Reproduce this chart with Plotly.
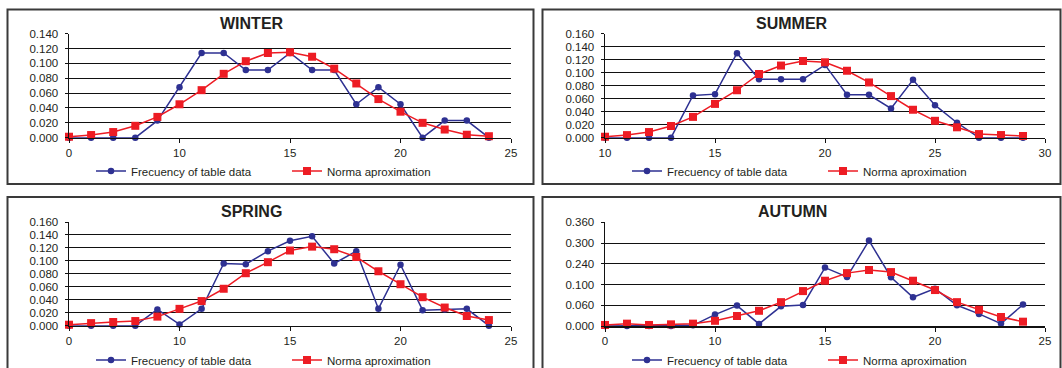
import plotly.graph_objects as go

W, H = 1062, 368

# ---------------- data ----------------
x_winter = list(range(5, 25))
winter_freq = [0.000, 0.000, 0.000, 0.000, 0.023, 0.068, 0.114, 0.114, 0.091, 0.091,
               0.114, 0.091, 0.091, 0.045, 0.068, 0.045, 0.000, 0.023, 0.023, 0.000]
winter_norm = [0.0013, 0.0036, 0.0076, 0.016, 0.028, 0.045, 0.064, 0.086, 0.103, 0.114,
               0.115, 0.109, 0.093, 0.073, 0.052, 0.035, 0.020, 0.011, 0.004, 0.002]

x_summer = list(range(10, 30))
summer_freq = [0.000, 0.000, 0.000, 0.000, 0.065, 0.067, 0.130, 0.090, 0.090, 0.090,
               0.112, 0.066, 0.066, 0.045, 0.089, 0.050, 0.023, 0.000, 0.000, 0.000]
summer_norm = [0.0015, 0.004, 0.0087, 0.018, 0.032, 0.052, 0.073, 0.098, 0.111, 0.118,
               0.116, 0.103, 0.085, 0.064, 0.043, 0.026, 0.016, 0.0056, 0.0041, 0.0026]

x_spring = list(range(5, 25))
spring_freq = [0.000, 0.000, 0.000, 0.000, 0.025, 0.002, 0.026, 0.096, 0.095, 0.115,
               0.131, 0.138, 0.096, 0.115, 0.026, 0.094, 0.024, 0.025, 0.026, 0.000]
spring_norm = [0.0015, 0.004, 0.0057, 0.0072, 0.014, 0.026, 0.038, 0.057, 0.081, 0.098,
               0.116, 0.122, 0.118, 0.106, 0.084, 0.064, 0.044, 0.028, 0.015, 0.0087]

x_autumn = list(range(5, 25))
autumn_freq = [0.000, 0.000, 0.000, 0.000, 0.002, 0.033, 0.059, 0.006, 0.057, 0.061,
               0.169, 0.142, 0.247, 0.141, 0.083, 0.108, 0.060, 0.035, 0.007, 0.062]
autumn_norm = [0.003, 0.0068, 0.003, 0.0048, 0.0068, 0.015, 0.029, 0.044, 0.069, 0.101,
               0.131, 0.153, 0.162, 0.156, 0.131, 0.104, 0.069, 0.047, 0.026, 0.0125]

titles = ["WINTER", "SUMMER", "SPRING", "AUTUMN"]
series_names = ["Frecuency of table data", "Norma aproximation"]

x_tick_vals_a = [5, 10, 15, 20, 25]
x_tick_text_a = ["0", "10", "15", "20", "25"]
x_tick_vals_b = [10, 15, 20, 25, 30]
x_tick_text_b = ["10", "15", "20", "25", "30"]
autumn_y_vals = [0.0, 0.06, 0.12, 0.18, 0.24, 0.30]
autumn_y_text = ["0.000", "0.060", "0.100", "0.240", "0.300", "0.360"]

BLUE = "#2E3192"
RED = "#ED1C24"
FONT = "Liberation Sans, Arial, sans-serif"
TXT = "#231F20"


def px(x):
    return x / W


def py(y):
    return 1 - y / H


panels = [
    dict(x=x_winter, f=winter_freq, n=winter_norm, xa="x", ya="y", lg="legend",
         xd=(69, 511), yd=(33.7, 137.7), xr=[5, 25], yr=[0, 0.14], xt=(x_tick_vals_a, x_tick_text_a)),
    dict(x=x_summer, f=summer_freq, n=summer_norm, xa="x2", ya="y2", lg="legend2",
         xd=(605, 1045), yd=(33.7, 137.7), xr=[10, 30], yr=[0, 0.16], xt=(x_tick_vals_b, x_tick_text_b)),
    dict(x=x_spring, f=spring_freq, n=spring_norm, xa="x3", ya="y3", lg="legend3",
         xd=(69, 511), yd=(222, 325.7), xr=[5, 25], yr=[0, 0.16], xt=(x_tick_vals_a, x_tick_text_a)),
    dict(x=x_autumn, f=autumn_freq, n=autumn_norm, xa="x4", ya="y4", lg="legend4",
         xd=(605, 1045), yd=(222.3, 326), xr=[5, 25], yr=[0, 0.30], xt=(x_tick_vals_a, x_tick_text_a)),
]

fig = go.Figure()
layout = dict(
    template="none",
    width=W, height=H, margin=dict(l=0, r=0, t=0, b=0, pad=0, autoexpand=False),
    paper_bgcolor="white", plot_bgcolor="white",
    font=dict(family=FONT, size=11.5, color=TXT),
    hovermode=False, showlegend=True,
)

legend_pos = [(96, 171), (632, 171), (96, 360), (632, 360)]
title_pos = [(252, 23.4), (792, 23.4), (251, 211), (792, 211)]

shapes = []
annotations = []

for i, p in enumerate(panels):
    fig.add_trace(go.Scatter(
        x=p["x"], y=p["f"], name=series_names[0], mode="lines+markers",
        line=dict(color=BLUE, width=1.5), marker=dict(symbol="circle", size=6.5, color=BLUE),
        xaxis=p["xa"], yaxis=p["ya"], legend=p["lg"], cliponaxis=False))
    fig.add_trace(go.Scatter(
        x=p["x"], y=p["n"], name=series_names[1], mode="lines+markers",
        line=dict(color=RED, width=1.5), marker=dict(symbol="square", size=8, color=RED),
        xaxis=p["xa"], yaxis=p["ya"], legend=p["lg"], cliponaxis=False))

    sfx = "" if i == 0 else str(i + 1)
    xaxis = dict(
        domain=[px(p["xd"][0]), px(p["xd"][1])], range=p["xr"], anchor="y" + sfx,
        tickvals=p["xt"][0], ticktext=p["xt"][1], showgrid=False, zeroline=False,
        showline=True, linecolor="#111", linewidth=1.5, ticks="outside", ticklen=4,
        tickcolor="#111", tickfont=dict(size=11.5, color=TXT, family=FONT), automargin=False,
    )
    yaxis = dict(
        domain=[py(p["yd"][1]), py(p["yd"][0])], range=p["yr"], anchor="x" + sfx,
        showgrid=True, gridcolor="#111111", gridwidth=1, zeroline=False,
        showline=True, linecolor="#111", linewidth=1.5, ticks="outside", ticklen=3,
        tickcolor="#111", tickfont=dict(size=11.5, color=TXT, family=FONT),
        ticklabelstandoff=4, automargin=False,
    )
    if i == 3:
        yaxis.update(tickvals=autumn_y_vals, ticktext=autumn_y_text)
    else:
        yaxis.update(dtick=0.02, tickformat=".3f", tick0=0)
    layout["xaxis" + sfx] = xaxis
    layout["yaxis" + sfx] = yaxis

    lx, ly = legend_pos[i]
    layout[p["lg"]] = dict(
        orientation="h", x=px(lx - 5), xanchor="left", y=py(ly), yanchor="middle",
        bgcolor="rgba(0,0,0,0)", borderwidth=0, font=dict(size=11.5, color=TXT, family=FONT),
        entrywidth=151, entrywidthmode="pixels", itemclick=False, itemdoubleclick=False,
    )

    tx, ty = title_pos[i]
    annotations.append(dict(
        text="<b>%s</b>" % titles[i], x=px(tx), y=py(ty), xref="paper", yref="paper",
        xanchor="center", yanchor="middle", showarrow=False,
        font=dict(size=16, color=TXT, family=FONT)))

# panel frames
frames = [(7.5, 9.5, 533.5, 184), (542.5, 9.5, 1060.5, 184),
          (7.5, 197, 533.5, 372), (542.5, 197, 1060.5, 372)]
for (x0, y0, x1, y1) in frames:
    shapes.append(dict(type="rect", xref="paper", yref="paper",
                       x0=px(x0), x1=px(x1), y0=py(y1), y1=py(y0),
                       line=dict(color="#3a3a3a", width=2), fillcolor="rgba(0,0,0,0)",
                       layer="below"))

layout["shapes"] = shapes
layout["annotations"] = annotations
fig.update_layout(**layout)
fig.write_html(
    "out.html",
    config={"displayModeBar": False, "staticPlot": True},
    post_script="document.body.style.margin='0';document.body.style.padding='0';"
                "document.documentElement.style.overflow='hidden';",
)
